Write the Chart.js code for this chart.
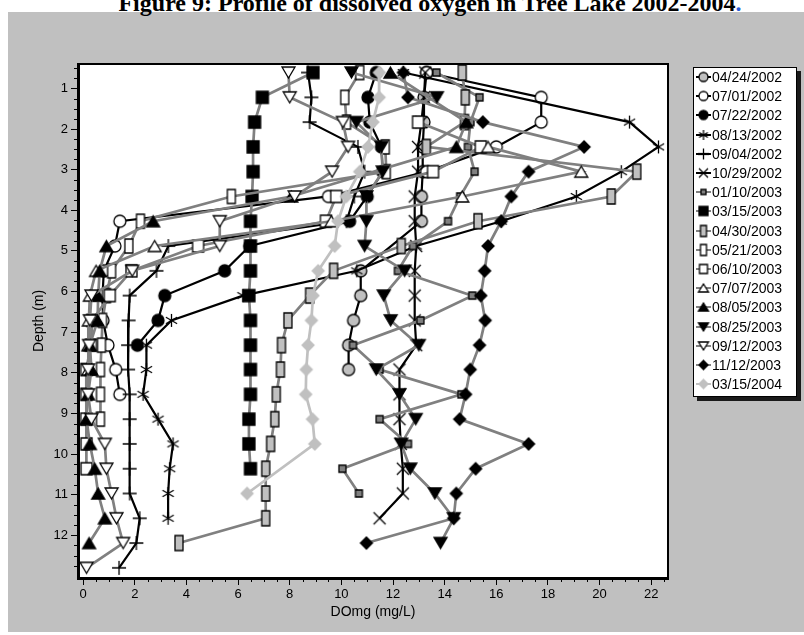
<!DOCTYPE html>
<html>
<head>
<meta charset="utf-8">
<script src="https://cdn.jsdelivr.net/npm/chart.js@4.4.1/dist/chart.umd.min.js"></script>
<style>
  html, body { margin: 0; padding: 0; background: #fff; }
  #page { position: relative; width: 804px; height: 635px; overflow: hidden; }
  #panel { position: absolute; left: 8px; top: 12px; width: 796px; height: 620px; background: #c0c0c0; }
  #title { position: absolute; left: 0; top: -10px; width: 860px; text-align: center; line-height: 24px;
           font: bold 24px "Liberation Serif", "Times New Roman", serif; white-space: nowrap; }
  #chart { position: absolute; left: 0; top: 0; }
  #legend { position: absolute; left: 693px; top: 67px; width: 104px; height: 330px; background: #fff;
            border: 1px solid #000; box-shadow: 4px 4px 0 #1a1a1a; box-sizing: border-box; }
  .row { position: absolute; left: 0; height: 18px; display: flex; align-items: center;
         font: 14px "Liberation Sans", Arial, sans-serif; color: #000; }
  .row canvas { margin-left: 2px; margin-right: 1px; }
</style>
</head>
<body>
<div id="page">
  <div id="panel"></div>
  <div id="title">Figure 9: Profile of dissolved oxygen in Tree Lake 2002-2004<span style="color:#2a5bd7">.</span></div>
  <canvas id="chart" width="804" height="635"></canvas>
  <div id="legend"></div>
</div>
<script>
// depth of each sample (m), 2 ft steps
const depths = [0.61, 1.22, 1.83, 2.44, 3.05, 3.66, 4.27, 4.88, 5.49, 6.10, 6.71,
                7.32, 7.92, 8.53, 9.14, 9.75, 10.36, 10.97, 11.58, 12.19, 12.80];

const dates = ['04/24/2002', '07/01/2002', '07/22/2002', '08/13/2002', '09/04/2002', '10/29/2002',
               '01/10/2003', '03/15/2003', '04/30/2003', '05/21/2003', '06/10/2003', '07/07/2003',
               '08/05/2003', '08/25/2003', '09/12/2003', '11/12/2003', '03/15/2004'];

// DO (mg/L) per depth, null = no reading
const do020424 = [13.3, 13.2, 13.2, 13.15, 13.15, 13.1, 13.1, null, 10.75, 10.75, 10.47, 10.28, 10.28, null, null, null, null, null, null, null, null];
const do020701 = [13.3, 17.74, 17.74, 16.0, 13.3, 9.5, 1.42, 1.23, 0.8, 0.75, 0.77, 0.96, 1.26, 1.42, null, null, null, null, null, null, null];
const do020722 = [11.35, 11.03, 11.1, 11.55, 11.6, 11.0, 10.32, 6.45, 5.48, 3.16, 2.9, 2.1, null, null, null, null, null, null, null, null, null];
const do020813 = [12.4, null, 21.16, 22.28, 20.84, 19.1, 16.19, 12.9, 10.6, 6.19, 3.42, 2.45, 2.45, 2.32, 2.9, 3.48, 3.35, 3.29, 3.29, null, null];
const do020904 = [8.71, 8.84, 8.77, 10.64, 10.9, 10.5, 10.2, 3.3, 2.84, 1.8, 1.76, 1.74, 1.74, 1.8, 1.8, 1.8, 1.8, 1.8, 2.19, 2.06, 1.39];
const do021029 = [13.25, 13.2, 13.1, 12.97, 12.97, 12.84, 12.84, 12.9, 12.84, 12.84, 12.84, 12.9, 12.25, 12.25, 12.25, 12.3, 12.38, 12.38, 11.48, null, null];
const do030110 = [13.68, 15.35, 15.0, 14.9, 15.16, 14.6, 14.13, 12.77, 12.19, 15.07, 13.06, 10.45, 11.48, 14.65, 11.48, 12.58, 10.04, 10.68, null, null, null];
const do030315 = [8.9, 6.94, 6.64, 6.58, 6.58, 6.54, 6.48, 6.48, 6.48, 6.42, 6.48, 6.48, 6.48, 6.48, 6.42, 6.42, 6.48, null, null, null, null];
const do030430 = [14.68, 14.8, 14.77, 13.29, 21.44, 20.45, 15.29, 12.32, 9.7, 8.77, 7.93, 7.68, 7.64, 7.48, 7.42, 7.26, 7.07, 7.07, 7.07, 3.71, null];
const do030521 = [10.71, 10.13, 10.2, 11.7, 11.74, 5.74, 2.22, 1.77, 1.1, 0.9, 0.75, 0.71, 0.67, 0.67, 0.67, null, null, null, null, null, null];
const do030610 = [null, null, 12.97, 15.4, 13.55, 9.8, 9.4, 4.45, 1.87, 1.03, 0.35, 0.3, 0.12, 0.12, 0.12, 0.13, 0.13, null, null, null, null];
const do030707 = [null, null, null, 15.68, 19.29, 14.68, 9.61, 2.77, 0.5, 0.26, 0.22, 0.2, 0.2, null, null, null, null, null, null, null, null];
const do030805 = [11.9, null, 14.84, 14.45, null, 8.06, 2.71, 0.9, 0.64, 0.58, 0.56, 0.26, 0.32, 0.19, 0.13, 0.26, 0.45, 0.58, 0.84, 0.23, null];
const do030825 = [10.39, 13.7, 10.58, 11.55, 11.6, 10.97, 10.97, 10.9, 12.45, 11.64, 11.91, 13.0, 11.35, 12.25, 12.88, 12.32, 12.67, 13.62, 14.35, 13.84, null];
const do030912 = [7.95, 8.0, 10.06, 10.26, 9.64, 8.19, 5.29, 5.29, 1.9, 0.32, 0.26, 0.23, 0.19, 0.19, 0.32, 0.84, 0.9, 1.1, 1.29, 1.55, 0.13];
const do031112 = [12.4, 12.58, 15.48, 19.4, 17.25, 16.58, 16.19, 15.68, 15.55, 15.4, 15.57, 15.35, 14.99, 14.81, 14.58, 17.25, 15.2, 14.45, 14.35, 10.97, null];
const do040315 = [11.47, 11.46, 11.22, 11.03, 10.71, 10.19, 9.87, 9.74, 9.1, 8.9, 8.84, 8.71, 8.64, 8.62, 8.88, 8.97, null, 6.35, null, null, null];

const seriesValues = [do020424, do020701, do020722, do020813, do020904, do021029, do030110, do030315,
                      do030430, do030521, do030610, do030707, do030805, do030825, do030912, do031112, do040315];

const xTicks = [0, 2, 4, 6, 8, 10, 12, 14, 16, 18, 20, 22];
const yTicks = [1, 2, 3, 4, 5, 6, 7, 8, 9, 10, 11, 12];

// marker look per series: [shape, fill, width, height, line colour]
const looks = [
  ['circle', '#c0c0c0', 12, 12, '#000'],
  ['circle', '#fff', 12, 12, '#000'],
  ['circle', '#000', 12, 12, '#000'],
  ['star', '#000', 13, 13, '#000'],
  ['plus', '#000', 14, 14, '#000'],
  ['x', '#000', 12, 12, '#000'],
  ['rect', '#808080', 7, 7, '#808080'],
  ['rect', '#000', 12, 12, '#808080'],
  ['rect', '#c0c0c0', 8, 15, '#808080'],
  ['rect', '#fff', 8, 14, '#808080'],
  ['rect', '#fff', 11, 12, '#808080'],
  ['triUp', '#fff', 13, 11, '#808080'],
  ['triUp', '#000', 13, 11, '#808080'],
  ['triDown', '#000', 13, 11, '#808080'],
  ['triDown', '#fff', 13, 11, '#808080'],
  ['diamond', '#000', 12, 12, '#808080'],
  ['diamond', '#c0c0c0', 12, 12, '#c0c0c0']
];

function makeMarker(shape, fill, w, h, scale) {
  w = Math.round(w * scale); h = Math.round(h * scale);
  const c = document.createElement('canvas');
  c.width = w + 4; c.height = h + 4;
  const g = c.getContext('2d');
  g.translate(c.width / 2, c.height / 2);
  g.lineWidth = 1.3;
  g.strokeStyle = fill === '#c0c0c0' && shape === 'diamond' ? '#c0c0c0' : '#000';
  g.fillStyle = fill;
  g.beginPath();
  if (shape === 'circle') {
    g.arc(0, 0, w / 2, 0, Math.PI * 2);
  } else if (shape === 'rect') {
    g.rect(-w / 2, -h / 2, w, h);
  } else if (shape === 'triUp') {
    g.moveTo(0, -h / 2); g.lineTo(w / 2, h / 2); g.lineTo(-w / 2, h / 2); g.closePath();
  } else if (shape === 'triDown') {
    g.moveTo(0, h / 2); g.lineTo(w / 2, -h / 2); g.lineTo(-w / 2, -h / 2); g.closePath();
  } else if (shape === 'diamond') {
    g.moveTo(0, -h / 2); g.lineTo(w / 2, 0); g.lineTo(0, h / 2); g.lineTo(-w / 2, 0); g.closePath();
  }
  if (shape === 'star') {
    for (let a = 0; a < 3; a++) {
      const t = Math.PI / 2 + a * Math.PI / 3;
      g.moveTo(Math.cos(t) * w / 2, Math.sin(t) * h / 2);
      g.lineTo(-Math.cos(t) * w / 2, -Math.sin(t) * h / 2);
    }
    g.stroke();
  } else if (shape === 'plus') {
    g.moveTo(-w / 2, 0); g.lineTo(w / 2, 0); g.moveTo(0, -h / 2); g.lineTo(0, h / 2);
    g.stroke();
  } else if (shape === 'x') {
    g.moveTo(-w / 2, -h / 2); g.lineTo(w / 2, h / 2); g.moveTo(w / 2, -h / 2); g.lineTo(-w / 2, h / 2);
    g.stroke();
  } else {
    g.fill(); g.stroke();
  }
  return c;
}

const datasets = seriesValues.map((vals, i) => {
  const [shape, fill, w, h, lineColor] = looks[i];
  const pts = [];
  vals.forEach((v, k) => { if (v !== null) pts.push({ x: v, y: depths[k] }); });
  return {
    label: dates[i],
    data: pts,
    showLine: true,
    borderColor: lineColor,
    borderWidth: lineColor === '#000' ? 2.2 : 2.7,
    pointStyle: makeMarker(shape, fill, w, h, 1),
    order: -i
  };
});

// minor ticks, white plot area and the top/right frame
const framePlugin = {
  id: 'frame',
  beforeDraw(chart) {
    const { ctx, chartArea: a } = chart;
    ctx.save();
    ctx.fillStyle = '#fff';
    ctx.fillRect(a.left, a.top, a.right - a.left, a.bottom - a.top);
    ctx.restore();
  },
  afterDraw(chart) {
    const { ctx, chartArea: a, scales } = chart;
    ctx.save();
    ctx.strokeStyle = '#000';
    ctx.lineWidth = 1;
    ctx.beginPath();
    for (let v = 0.5; v <= 22.5; v += 0.5) {
      if (v % 2 === 0) continue;
      const px = Math.round(scales.x.getPixelForValue(v)) + 0.5;
      ctx.moveTo(px, a.bottom); ctx.lineTo(px, a.bottom + 4);
    }
    for (let v = 0.5; v <= 13; v += 0.25) {
      if (v % 1 === 0) continue;
      const py = Math.round(scales.y.getPixelForValue(v)) + 0.5;
      ctx.moveTo(a.left - 4, py); ctx.lineTo(a.left, py);
    }
    ctx.stroke();
    ctx.lineWidth = 2;
    ctx.beginPath();
    ctx.moveTo(a.left, a.top); ctx.lineTo(a.right, a.top); ctx.lineTo(a.right, a.bottom);
    ctx.stroke();
    ctx.restore();
  }
};

const tickFont = { family: '"Liberation Sans Narrow", "Liberation Sans", Arial, sans-serif', size: 13 };
const titleFont = { family: '"Liberation Sans", Arial, sans-serif', size: 14 };

new Chart(document.getElementById('chart'), {
  type: 'scatter',
  data: { datasets: datasets },
  options: {
    responsive: false,
    animation: false,
    events: [],
    layout: { padding: { top: 64, right: 136, left: 0, bottom: 0 }, autoPadding: false },
    plugins: { legend: { display: false }, tooltip: { enabled: false } },
    scales: {
      x: {
        type: 'linear', position: 'bottom', min: -0.2, max: 22.65,
        afterFit(s) { s.height = 57; },
        afterBuildTicks(s) { s.ticks = xTicks.map(v => ({ value: v })); },
        grid: { display: true, drawOnChartArea: false, drawTicks: true, tickLength: 7, color: '#000' },
        border: { display: true, color: '#000', width: 3 },
        ticks: { color: '#000', font: tickFont, padding: 2, maxRotation: 0 },
        title: { display: true, text: 'DOmg (mg/L)', color: '#000', font: titleFont, padding: { top: 0, bottom: 14 } }
      },
      y: {
        type: 'linear', position: 'left', reverse: true, min: 0.4, max: 13.05,
        afterFit(s) { s.width = 78; },
        afterBuildTicks(s) { s.ticks = yTicks.map(v => ({ value: v })); },
        grid: { display: true, drawOnChartArea: false, drawTicks: true, tickLength: 7, color: '#000' },
        border: { display: true, color: '#000', width: 3 },
        ticks: { color: '#000', font: tickFont, padding: 3 },
        title: { display: true, text: 'Depth (m)', color: '#000', font: titleFont, padding: { top: 31, bottom: 0 } }
      }
    }
  },
  plugins: [framePlugin]
});

// legend box
const legend = document.getElementById('legend');
dates.forEach((d, i) => {
  const [shape, fill, w, h, lineColor] = looks[i];
  const row = document.createElement('div');
  row.className = 'row';
  row.style.top = (i * 19.2) + 'px';
  const icon = document.createElement('canvas');
  icon.width = 15; icon.height = 18;
  const g = icon.getContext('2d');
  g.strokeStyle = lineColor; g.lineWidth = 2;
  g.beginPath(); g.moveTo(0, 9); g.lineTo(15, 9); g.stroke();
  const m = makeMarker(shape, fill, w, h, 0.75);
  g.drawImage(m, 7.5 - m.width / 2, 9 - m.height / 2);
  row.appendChild(icon);
  const t = document.createElement('span');
  t.textContent = d;
  row.appendChild(t);
  legend.appendChild(row);
});
</script>
</body>
</html>
